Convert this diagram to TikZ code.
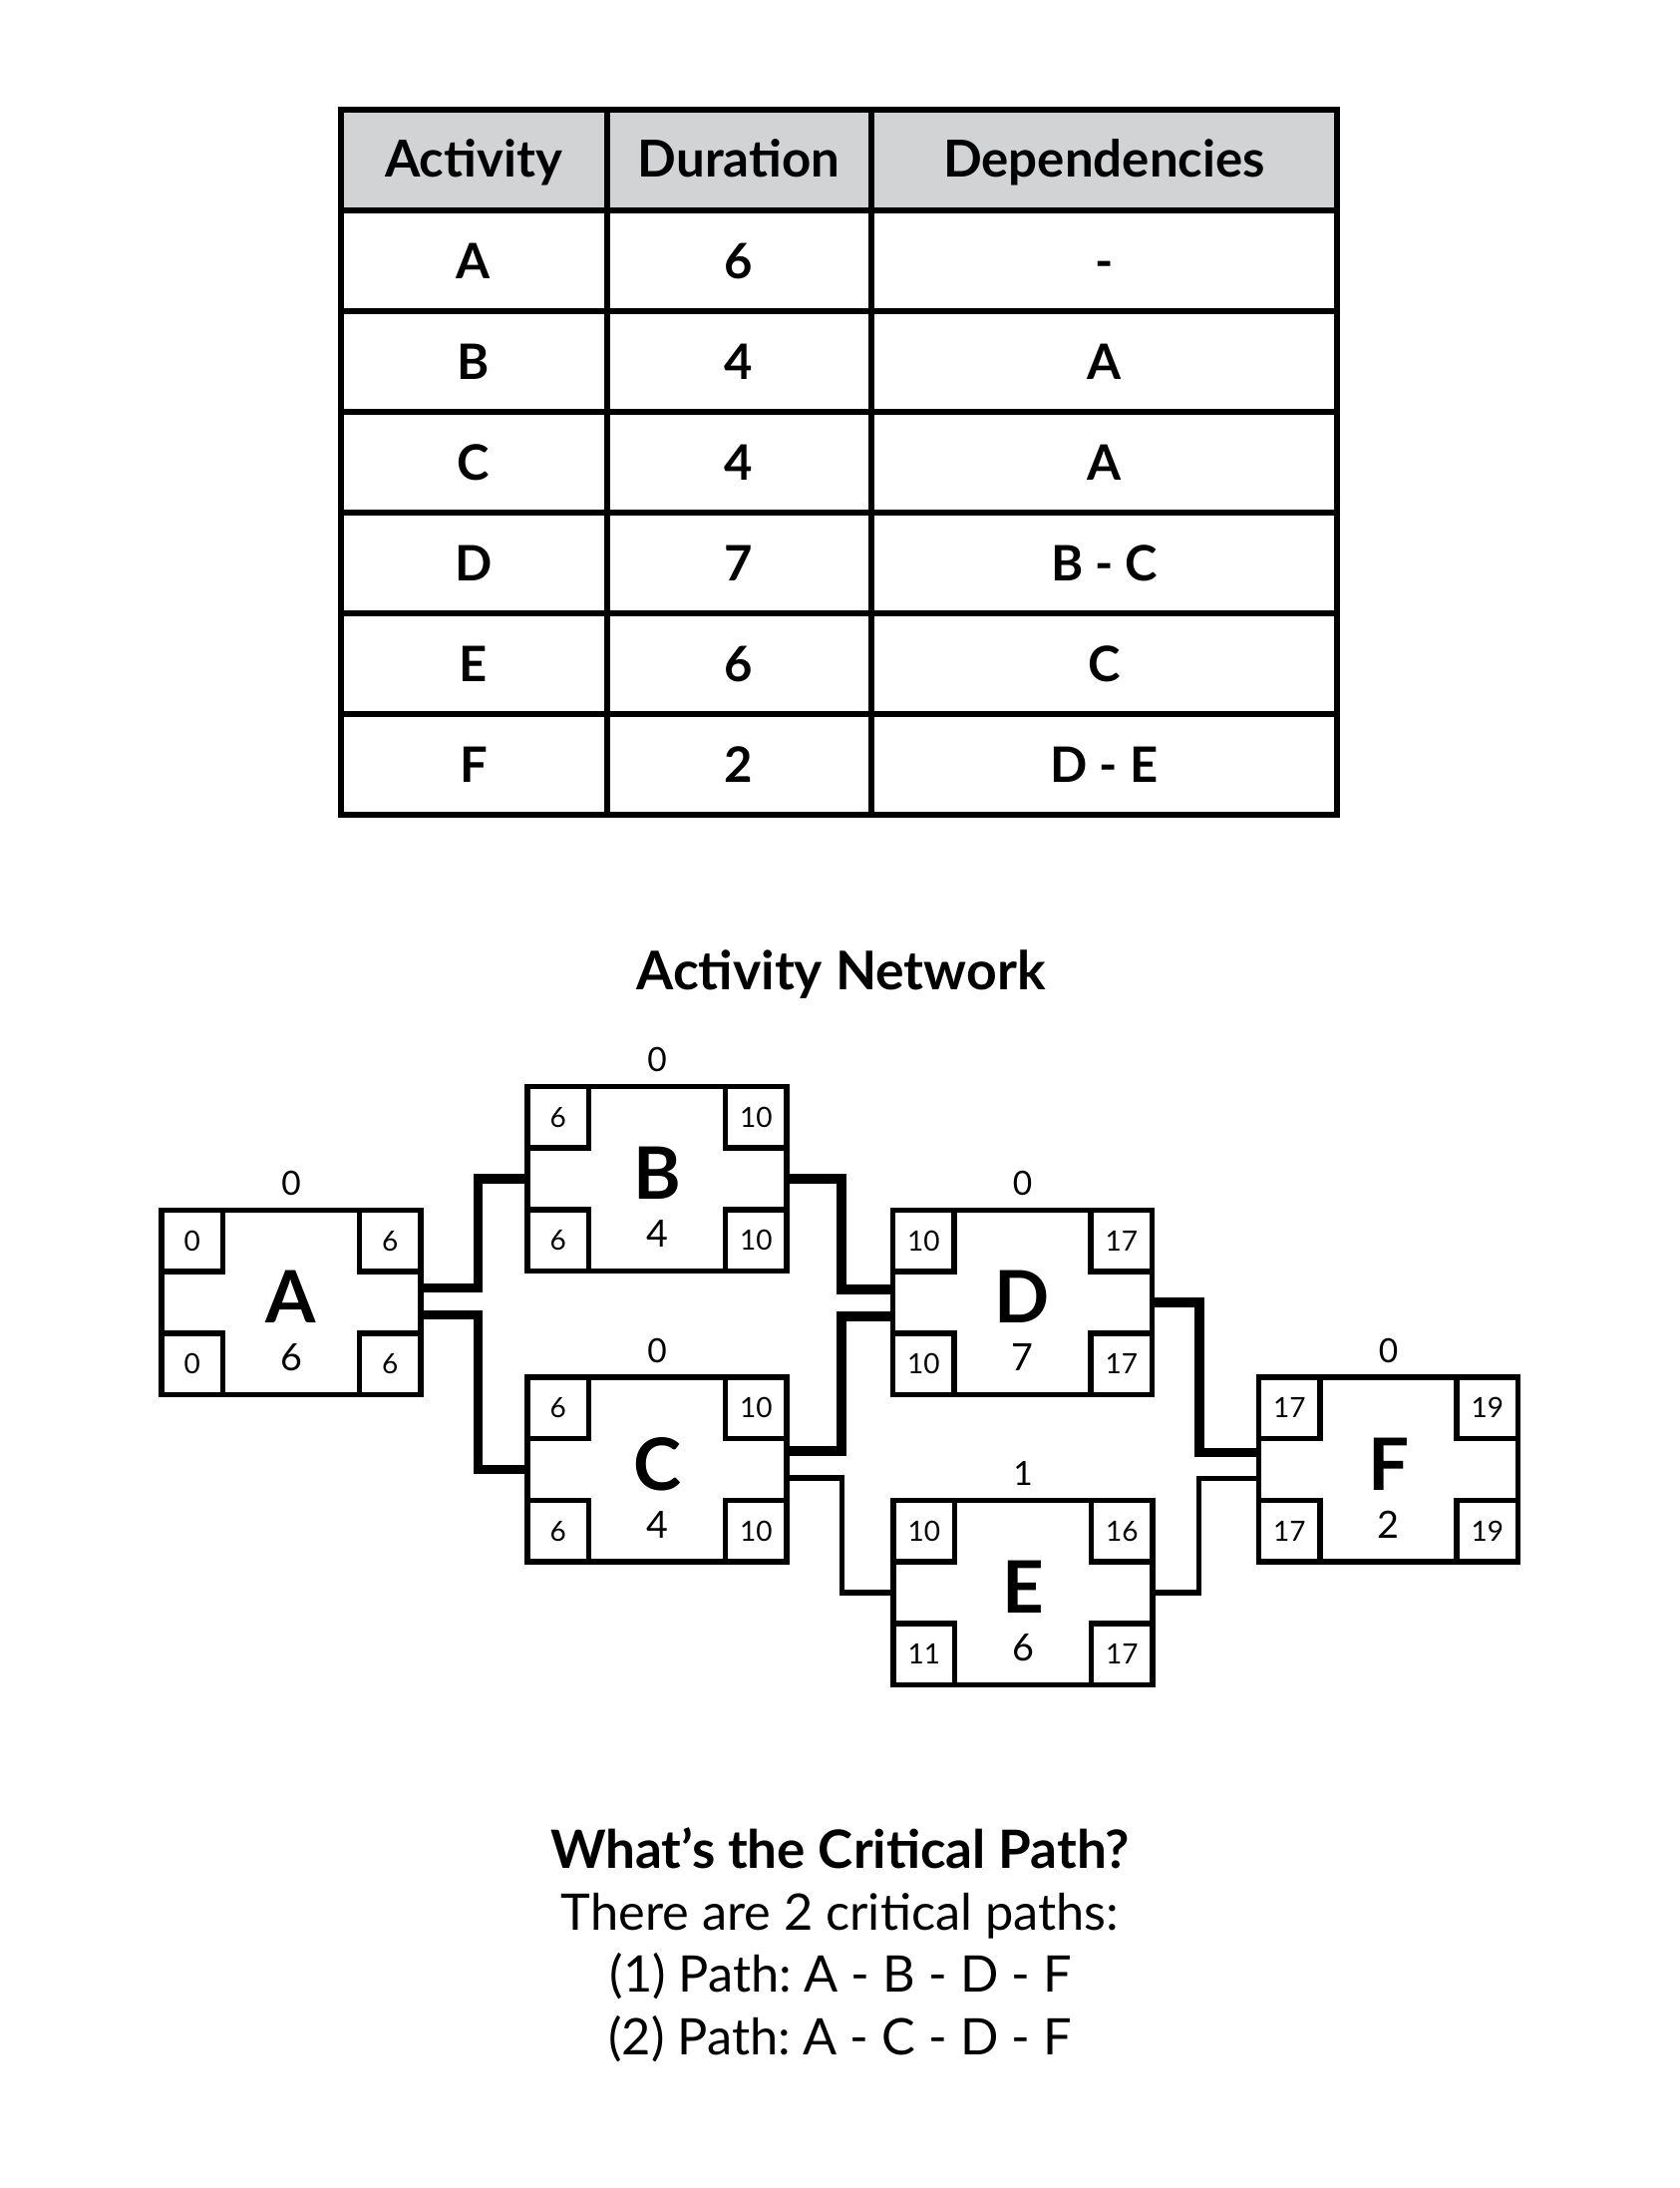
\documentclass[tikz,border=0pt]{standalone}
\usepackage{fontspec}
\setmainfont{Lato}
\usetikzlibrary{calc}
\frenchspacing
\newcommand\myfs[1]{\fontsize{#1}{#1}\selectfont}
\definecolor{headgray}{HTML}{D1D3D4}
\tikzset{
  act/.style={draw, line width=5.5pt, fill=white, minimum width=260pt, minimum height=185pt, inner sep=0pt, outer sep=0pt},
  cbox/.style={draw, line width=5.5pt, minimum width=61.5pt, minimum height=61.5pt, inner sep=0pt, outer sep=0pt, font=\myfs{28}},
  big/.style={font=\bfseries\myfs{72.5}, inner sep=0pt},
  dur/.style={font=\myfs{37.7}, inner sep=0pt},
  slack/.style={font=\myfs{33.5}, inner sep=0pt},
  crit/.style={line width=9.3pt, line join=miter},
  noncrit/.style={line width=5.5pt, line join=miter},
  grid/.style={line width=6pt},
  cell/.style={font=\bfseries\myfs{49}, inner sep=0pt, anchor=base},
  head/.style={font=\bfseries\myfs{51}, inner sep=0pt, anchor=base},
  title/.style={font=\bfseries\myfs{53.5}, inner sep=0pt, anchor=base},
  qtitle/.style={font=\bfseries\myfs{53}, inner sep=0pt, anchor=base},
  body/.style={font=\myfs{50.5}, inner sep=0pt, anchor=base},
}
\newcommand\actnode[9]{%
  \node[act] (#1) at (#2) {};
  \node[cbox, anchor=north west] (#1-es) at (#1.north west) {#6};
  \node[cbox, anchor=north east] (#1-ef) at (#1.north east) {#7};
  \node[cbox, anchor=south west] (#1-ls) at (#1.south west) {#8};
  \node[cbox, anchor=south east] (#1-lf) at (#1.south east) {#9};
  \node[big] (#1-name) at ($(#1.center)+(0,-5.5)$) {#3};
  \node[dur] (#1-dur) at ($(#1.center)+(0,55)$) {#4};
  \node[slack] (#1-slack) at ($(#1.north)+(0,-27)$) {#5};
}
\begin{document}
\begin{tikzpicture}[x=1pt, y=-1pt]
\useasboundingbox (0,0) rectangle (1684,2194);
\fill[white] (0,0) rectangle (1684,2194);

% ---------- table ----------
\fill[headgray] (342,110) rectangle (1341,211);
\draw[grid] (342,110) rectangle (1341,817);
\foreach \yy in {211,312,413,514,615,716} \draw[grid] (342,\yy) -- (1341,\yy);
\draw[grid] (608.5,110) -- (608.5,817);
\draw[grid] (874,110) -- (874,817);

\node[head] (h1) at (475,178) {Activity};
\node[head] (h2) at (741,178) {Duration};
\node[head] (h3) at (1107.5,178) {Dependencies};

\foreach \a/\d/\p [count=\i from 0] in {A/6/-,B/4/A,C/4/A,D/7/B - C,E/6/C,F/2/D - E}{
  \node[cell] (c1-\i) at (475,{279.5+101*\i}) {\a};
  \node[cell] (c2-\i) at (741,{279.5+101*\i}) {\d};
  \node[cell] (c3-\i) at (1107.5,{279.5+101*\i}) {\p};
}

% ---------- network ----------
\node[title] (nettitle) at (843.5,992) {Activity Network};

\actnode{A}{292,1306}{A}{6}{0}{0}{6}{0}{6}
\actnode{B}{659,1182}{B}{4}{0}{6}{10}{6}{10}
\actnode{C}{659,1473.5}{C}{4}{0}{6}{10}{6}{10}
\actnode{D}{1025.5,1306}{D}{7}{0}{10}{17}{10}{17}
\actnode{E}{1026,1597}{E}{6}{1}{10}{16}{11}{17}
\actnode{F}{1392.5,1473.5}{F}{2}{0}{17}{19}{17}{19}

\draw[crit] ($(A.east)+(0,-14.5)$) -- ++(57.5,0) |- (B.west);
\draw[crit] ($(A.east)+(0,12.5)$) -- ++(57.5,0) |- (C.west);
\draw[crit] (B.east) -- ++(55,0) |- ($(D.west)+(0,-13)$);
\draw[crit] ($(C.east)+(0,-18.5)$) -- ++(55,0) |- ($(D.west)+(0,14)$);
\draw[noncrit] ($(C.east)+(0,8.5)$) -- ++(55.5,0) |- (E.west);
\draw[crit] (D.east) -- ++(47.5,0) |- ($(F.west)+(0,-17)$);
\draw[noncrit] (E.east) -- ++(46.5,0) |- ($(F.west)+(0,9)$);

% ---------- answer ----------
\node[qtitle] (q) at (842.5,1873) {What’s the Critical Path?};
\node[body] (l1) at (842.5,1935) {There are 2 critical paths:};
\node[body] (l2) at (843,1997) {(1) Path: A - B - D - F};
\node[body] (l3) at (842.5,2060) {(2) Path: A - C - D - F};
\end{tikzpicture}
\end{document}
